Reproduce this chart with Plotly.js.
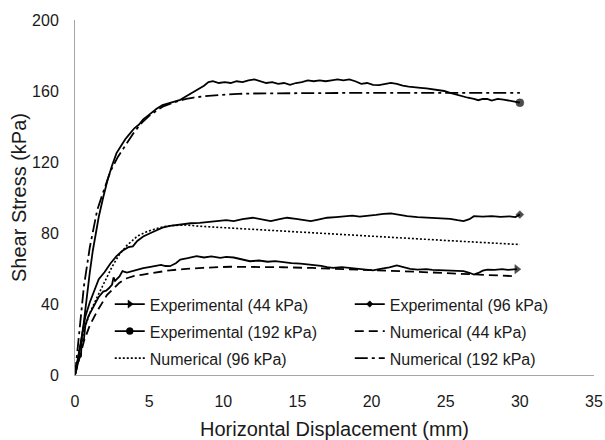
<!DOCTYPE html>
<html>
<head>
<meta charset="utf-8">
<script src="https://cdn.plot.ly/plotly-3.0.1.min.js"></script>
<style>html,body{margin:0;padding:0;background:#fff;}#chart{width:605px;height:440px;}</style>
</head>
<body>
<div id="chart"></div>
<script>
// Experimental (44 kPa)
var exp44X = [0,0.15,0.3,0.4,0.45,0.6,0.7,0.9,1.15,1.4,1.6,1.9,2.1,2.3,2.5,2.6,2.7,3.0,3.2,3.5,3.8,4.2,4.6,5.0,5.3,5.8,6.1,6.4,6.8,7.1,7.6,8.2,8.7,9.2,9.8,10.2,10.7,11.2,11.8,12.4,13.0,13.5,14.0,14.6,15.2,15.9,16.6,17.0,17.4,18.0,18.6,19.3,20.1,20.6,21.2,21.7,22.2,22.6,23.1,23.7,24.1,24.6,25.2,25.7,26.2,26.6,26.9,27.2,27.5,27.8,28.3,28.8,29.2,29.8];
var exp44Y = [0,5,10,10.5,19,20,28,33,37,41,44,47,47.5,49,51,55,53,55.5,58.5,57.7,58.5,59.4,60.2,60.8,61.3,62,61.4,61.3,63,65,65.8,67,66.2,66.8,66,66.5,66.2,65.3,64.1,64.5,63.8,64.2,63.6,63,62.8,62.3,61.5,60.8,60.4,60.8,60.4,59.8,59,59.8,60.6,61.7,60.8,59.8,59.4,59.6,59.2,59,58.8,58.6,58.5,57.6,56.6,57.5,58.8,59.4,59.2,59.6,59.2,59.6];
// Experimental (96 kPa)
var exp96X = [0,0.2,0.4,0.7,1.0,1.3,1.6,2.0,2.4,2.8,3.2,3.6,3.9,4.2,4.6,5.1,5.5,5.9,6.4,7.1,7.8,8.4,9.0,9.6,10.2,10.7,11.3,12.0,12.6,13.2,13.8,14.3,14.9,15.5,15.9,16.4,17.0,17.6,18.1,18.7,19.2,19.7,20.3,20.8,21.3,21.9,22.4,23.1,23.8,24.5,25.3,25.8,26.2,26.6,26.9,27.5,28.1,28.7,29.3,29.7,30.0];
var exp96Y = [0,10,20,33,41,47,54,58,63,67,70,72,72.5,75.5,78,80,81.5,83,84,84.8,85.5,85.7,86.2,86.8,87.2,86.7,87.8,88.6,87.5,86.7,87.8,88.6,88,87.2,86.7,87.6,88.6,89,89.5,89.8,89.2,89.5,90.2,90.8,91,90.2,89.5,89,88.6,88.4,88,87.2,86.7,87.8,89.5,89.2,89.5,89.1,89.4,89,90.4];
// Experimental (192 kPa)
var exp192X = [0,0.2,0.4,0.6,0.8,1.0,1.2,1.4,1.6,1.9,2.2,2.5,2.8,3.1,3.4,3.7,4.0,4.3,4.6,4.9,5.2,5.5,5.9,6.3,6.7,7.1,7.5,7.9,8.3,8.7,9.0,9.3,9.7,10.1,10.5,10.9,11.3,11.7,12.1,12.5,12.9,13.3,13.7,14.1,14.5,14.9,15.3,15.7,16.1,16.5,16.9,17.3,17.7,18.1,18.5,18.9,19.3,19.7,20.1,20.5,20.9,21.3,21.7,22.1,22.5,22.9,23.3,23.7,24.1,24.5,24.9,25.3,25.7,26.1,26.5,26.9,27.2,27.5,27.8,28.1,28.5,28.9,29.2,29.6,30.0];
var exp192Y = [0,8,18,30,45,58,70,80,89,100,110,118,125,129,133,136,139,141,144,146,148,150,152,153,154,155,157,159,161,163,165,165.5,164.5,165,164.5,165.5,165,166,166.5,165.5,164.5,165,164,164.5,163.5,164.5,165,166,165.5,166,165.5,166,166.5,166,166.5,165.5,164,164.5,163.5,163.3,164,164.6,164,163,162.5,162,161.8,161.5,161,160.6,160,159,158,157,156.2,155.5,154.8,155.5,155.6,154.6,155.6,155.2,154.8,154.2,153.4];
// Numerical (44 kPa)
var num44X = [0,0.3,0.6,1.0,1.5,2.15,3.0,3.5,4.0,4.6,5.5,6.4,7.5,8.6,10.5,12,14,16,18,20,22,24,26,28,29.5];
var num44Y = [0,10,19,28,36,45,52,54.5,55.8,56.6,58,59,59.8,60.4,61,61,60.7,60.3,59.8,59.3,58.5,57.8,57,56.3,55.7];
// Numerical (96 kPa)
var num96X = [0,0.3,0.6,1.0,1.5,2.0,2.5,3.0,3.5,4.2,4.8,5.3,6.0,6.5,7.0,7.5,8.4,10,15,20,25,30];
var num96Y = [0,14,25,35,44,53,61,68,73,78.2,80.6,82,83.6,84.2,84.5,84.5,83.8,83,80.6,78.2,75.8,73.5];
// Numerical (192 kPa)
var num192X = [0,0.3,0.6,1.0,1.5,1.9,2.4,2.9,3.5,4.0,4.5,5.0,5.5,6.0,6.5,7.0,7.5,8.0,9.0,10,11,12,14,16,20,25,30];
var num192Y = [0,27,50,72,93,103,115,123,131,137,142,146,149,151.5,153,154.5,155.5,156.3,157.3,158,158.4,158.6,158.8,159,159,159,159];

var seriesNames = ['Experimental (44 kPa)','Experimental (96 kPa)','Experimental (192 kPa)','Numerical (44 kPa)','Numerical (96 kPa)','Numerical (192 kPa)'];
var xTicks = [0,5,10,15,20,25,30,35];
var yTicks = [0,40,80,120,160,200];

var styles = [
  {dash:'solid', width:1.8, symbol:'triangle-right', msize:8},
  {dash:'solid', width:1.8, symbol:'diamond', msize:6},
  {dash:'solid', width:1.8, symbol:'circle', msize:8},
  {dash:'9px,5px', width:1.8},
  {dash:'2px,2px', width:1.6},
  {dash:'13px,4px,3px,4px', width:1.8}
];
var xs = [exp44X, exp96X, exp192X, num44X, num96X, num192X];
var ys = [exp44Y, exp96Y, exp192Y, num44Y, num96Y, num192Y];

var traces = [];
for (var i = 0; i < 6; i++) {
  var st = styles[i];
  var t = {
    x: xs[i], y: ys[i], type: 'scatter', showlegend: false,
    mode: st.symbol ? 'lines+markers' : 'lines',
    line: {color: '#000', width: st.width, dash: st.dash},
    hoverinfo: 'skip'
  };
  if (st.symbol) {
    var sizes = xs[i].map(function(v, k, a){ return k === a.length - 1 ? st.msize : 0; });
    t.marker = {color: '#000', size: sizes, symbol: st.symbol, line: {color: '#000', width: 0.5}};
  }
  traces.push(t);
}
// legend entries
for (var j = 0; j < 6; j++) {
  var s2 = styles[j];
  var lt = {
    x: [null], y: [null], type: 'scatter',
    name: '<span style="font-size:16px">' + seriesNames[j] + '</span>', showlegend: true,
    mode: s2.symbol ? 'lines+markers' : 'lines',
    line: {color: '#000', width: s2.width, dash: s2.dash}
  };
  if (s2.symbol) lt.marker = {color: '#000', size: s2.msize - 1, symbol: s2.symbol, line: {color: '#000', width: 0.5}};
  traces.push(lt);
}

var fontFam = '"Liberation Sans", Arial, sans-serif';
var layout = {
  width: 605, height: 440,
  margin: {l: 75, r: 11, t: 20, b: 64.5},
  paper_bgcolor: '#fff', plot_bgcolor: '#fff',
  font: {family: fontFam, color: '#1a1a1a', size: 16},
  showlegend: true,
  legend: {
    orientation: 'h', x: 0.067, y: 0.252, xanchor: 'left', yanchor: 'top',
    entrywidth: 195, bgcolor: 'rgba(0,0,0,0)',
    font: {family: fontFam, size: 18.5, color: '#1a1a1a'}
  },
  xaxis: {
    range: [0, 35], tickvals: xTicks, ticktext: xTicks.map(String),
    showgrid: false, zeroline: false, showline: true, linecolor: '#a6a6a6', linewidth: 1,
    ticks: '', ticklabelstandoff: 12,
    tickfont: {size: 16},
    title: {text: 'Horizontal Displacement (mm)', font: {size: 20}, standoff: 12}
  },
  yaxis: {
    range: [0, 200], tickvals: yTicks, ticktext: yTicks.map(String),
    showgrid: false, zeroline: false, showline: true, linecolor: '#a6a6a6', linewidth: 1,
    ticks: '', ticklabelstandoff: 12,
    tickfont: {size: 16},
    title: {text: 'Shear Stress (kPa)', font: {size: 20}, standoff: 0}
  }
};
Plotly.newPlot('chart', traces, layout, {displayModeBar: false, staticPlot: true});
</script>
</body>
</html>
